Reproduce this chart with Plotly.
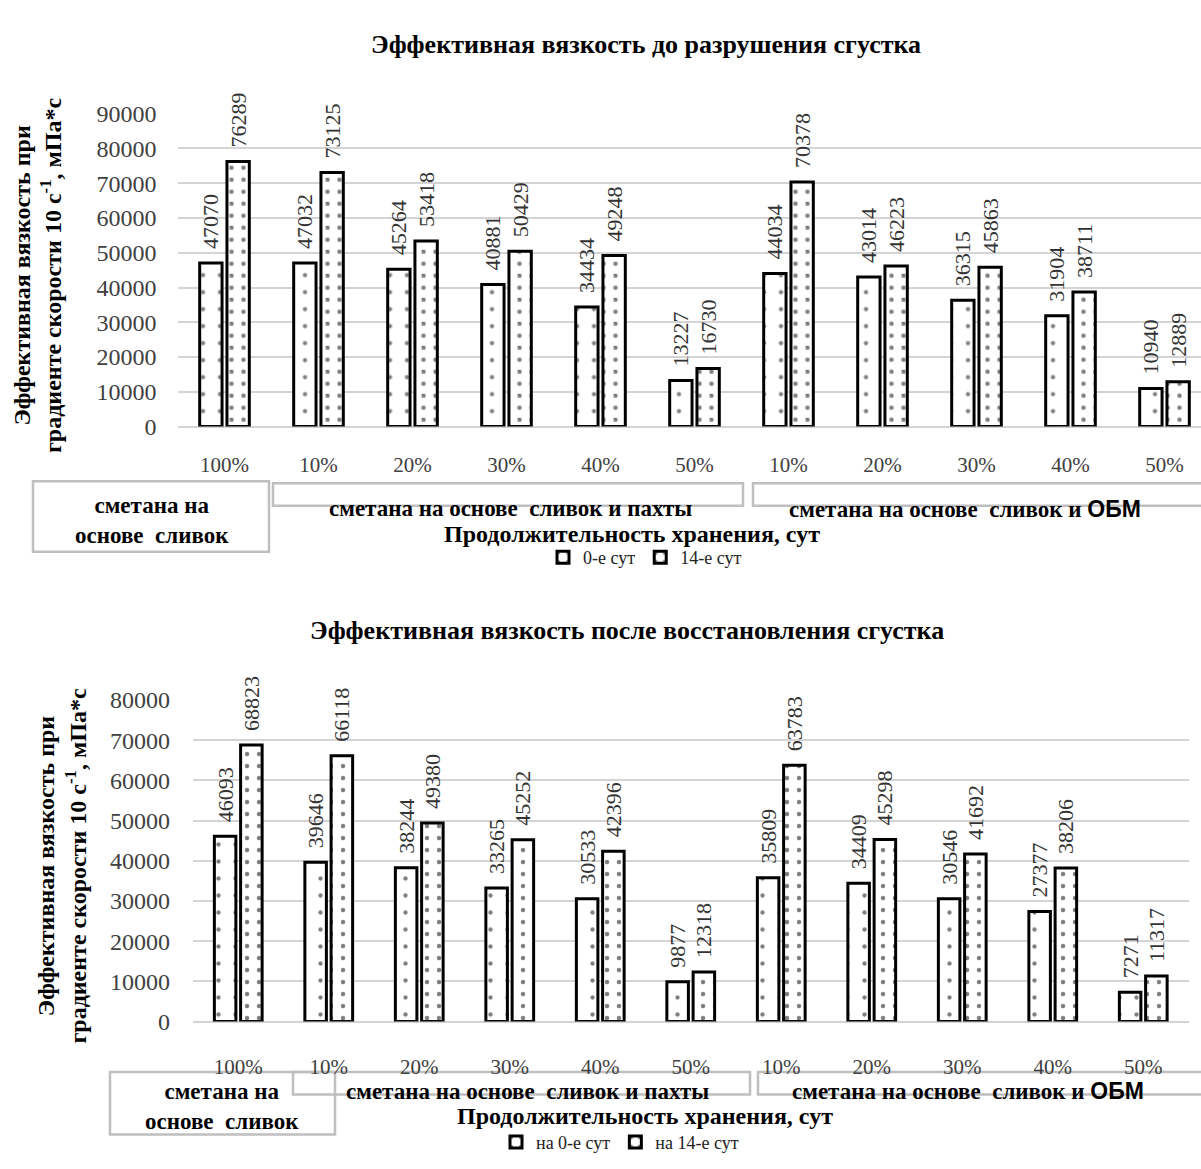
import plotly.graph_objects as go

W, H = 1201, 1169

categories = ["100%", "10%", "20%", "30%", "40%", "50%", "10%", "20%", "30%", "40%", "50%"]

before_day0 = [47070, 47032, 45264, 40881, 34434, 13227, 44034, 43014, 36315, 31904, 10940]
before_day14 = [76289, 73125, 53418, 50429, 49248, 16730, 70378, 46223, 45863, 38711, 12889]

after_day0 = [46093, 39646, 38244, 33265, 30533, 9877, 35809, 34409, 30546, 27377, 7271]
after_day14 = [68823, 66118, 49380, 45252, 42396, 12318, 63783, 45298, 41692, 38206, 11317]

title_top = "Эффективная вязкость до разрушения сгустка"
title_bottom = "Эффективная вязкость после восстановления сгустка"
ytitle = "Эффективная вязкость при<br>градиенте скорости 10 с<sup>-1</sup>, мПа*с"
xtitle = "Продолжительность хранения, сут"
group_labels = ["сметана на<br>основе  сливок", "сметана на основе  сливок и пахты",
                "сметана на основе  сливок и <span style='font-family:Liberation Sans'>ОБМ</span>"]
legend_top = ["0-е сут", "14-е сут"]
legend_bottom = ["на 0-е сут", "на 14-е сут"]

SERIF = "Liberation Serif, Times New Roman, serif"
NB = "\u00a0\u00a0"

def px_x(p):
    return p / W

def px_y(p):
    return 1 - p / H

xs = list(range(len(categories)))

def bar(y, name, pattern_size, solidity, xa, ya, legend, shape="."):
    return go.Bar(
        x=xs, y=y, name=name, xaxis=xa, yaxis=ya, legend=legend,
        text=[NB + str(v) for v in y], textposition="outside", textangle=-90,
        constraintext="none", cliponaxis=False,
        textfont=dict(family=SERIF, size=22, color="#333333"),
        marker=dict(color="white", line=dict(color="black", width=3),
                    pattern=dict(shape=shape, size=pattern_size, solidity=solidity,
                                 fgcolor="black", bgcolor="white", fillmode="overlay")),
    )

fig = go.Figure()
fig.add_trace(bar(before_day0, legend_top[0], 17, 0.05, "x", "y", "legend"))
fig.add_trace(bar(before_day14, legend_top[1], 12, 0.11, "x", "y", "legend"))
fig.add_trace(bar(after_day0, legend_bottom[0], 17, 0.05, "x2", "y2", "legend2"))
fig.add_trace(bar(after_day14, legend_bottom[1], 12, 0.11, "x2", "y2", "legend2"))

tickfont = dict(family=SERIF, size=24, color="#404040")
xtickfont = dict(family=SERIF, size=21, color="#404040")

top_x0, top_step = 177.5, 94.0
bot_x0, bot_step = 193.0, 90.5

fig.update_layout(
    width=W, height=H, margin=dict(l=0, r=0, t=0, b=0),
    paper_bgcolor="white", plot_bgcolor="white",
    barmode="group", bargap=0.42, bargroupgap=0.18,
    font=dict(family=SERIF, color="black"),
    xaxis=dict(domain=[px_x(top_x0), 1], range=[-0.5, -0.5 + (W - top_x0) / top_step],
               tickvals=xs, ticktext=categories, tickfont=xtickfont, showgrid=False,
               zeroline=False, showline=False, ticks="", ticklabelstandoff=23, anchor="y"),
    yaxis=dict(domain=[px_y(423), px_y(103)], range=[0, 90000], dtick=10000, tickformat="d",
               tickfont=tickfont, gridcolor="#d4d4d4", gridwidth=2, zeroline=True,
               zerolinecolor="#d4d4d4", zerolinewidth=2, showline=False,
               ticklabelstandoff=20, anchor="x"),
    xaxis2=dict(domain=[px_x(bot_x0), px_x(bot_x0 + 11 * bot_step)], range=[-0.5, 10.5],
                tickvals=xs, ticktext=categories, tickfont=xtickfont, showgrid=False,
                zeroline=False, showline=False, ticks="", ticklabelstandoff=30, anchor="y2"),
    yaxis2=dict(domain=[px_y(1031.5), px_y(702.7)], range=[0, 80000], dtick=10000, tickformat="d",
                tickfont=tickfont, gridcolor="#d4d4d4", gridwidth=2, zeroline=True,
                zerolinecolor="#d4d4d4", zerolinewidth=2, showline=False,
                ticklabelstandoff=22, anchor="x2"),
    legend=dict(orientation="h", x=px_x(645), xanchor="center", y=px_y(557), yanchor="middle",
                font=dict(family=SERIF, size=18, color="#222222"), bgcolor="rgba(0,0,0,0)",
                itemwidth=30, tracegroupgap=0),
    legend2=dict(orientation="h", x=px_x(620), xanchor="center", y=px_y(1155), yanchor="middle",
                 font=dict(family=SERIF, size=18, color="#222222"), bgcolor="rgba(0,0,0,0)",
                 itemwidth=30, tracegroupgap=0),
)

def ann(text, x, y, size=22, bold=True, angle=0, align="center"):
    fig.add_annotation(text=("<b>%s</b>" % text) if bold else text, x=px_x(x), y=px_y(y),
                       xref="paper", yref="paper", showarrow=False, textangle=angle,
                       xanchor="center", yanchor="middle", align=align,
                       font=dict(family=SERIF, size=size, color="black"))

# titles
ann(title_top, 646, 32, size=26)
ann(title_bottom, 627, 632, size=26)
# y titles
ann(ytitle, 37, 268, size=24, angle=-90)
ann(ytitle, 62, 872, size=24, angle=-90)
# x titles
ann(xtitle, 632, 533, size=24)
ann(xtitle, 645, 1128, size=24)

def box(x0, y0, x1, y1):
    fig.add_shape(type="rect", xref="paper", yref="paper",
                  x0=px_x(x0), x1=px_x(x1), y0=px_y(y1), y1=px_y(y0),
                  line=dict(color="#bfbfbf", width=2.5), fillcolor="rgba(0,0,0,0)", layer="below")

# top group boxes
box(33, 479, 269, 551)
box(273, 481, 743, 504)
box(753, 481, 1215, 504)
ann(group_labels[0], 152, 519, size=23)
ann(group_labels[1], 510, 507, size=23)
ann(group_labels[2], 965, 507, size=23)

# bottom group boxes
box(110, 1083, 335, 1147)
box(293, 1083, 750, 1106)
box(758, 1083, 1215, 1106)
ann(group_labels[0], 222, 1118, size=23)
ann(group_labels[1], 527, 1103, size=23)
ann(group_labels[2], 968, 1103, size=23)

fig.write_html("out.html")
